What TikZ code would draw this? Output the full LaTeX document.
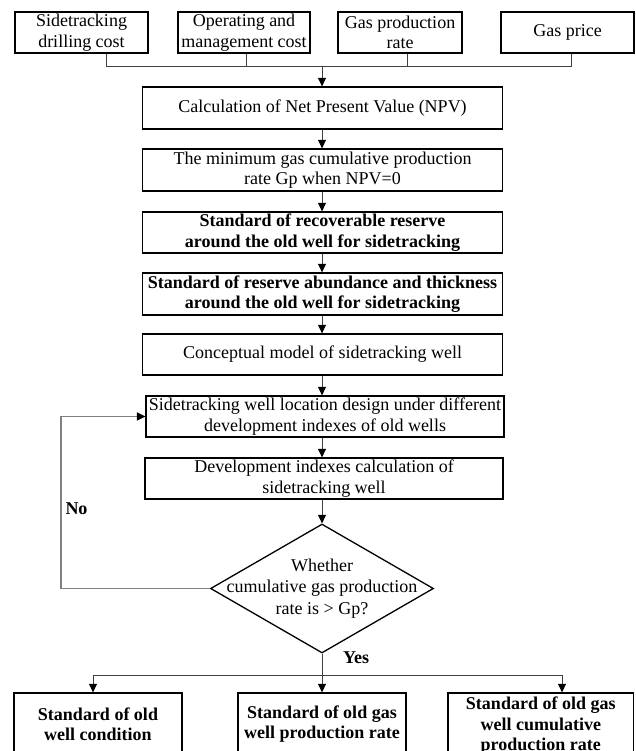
\documentclass[tikz,border=0pt]{standalone}
\usepackage{fontspec}
\setmainfont{Liberation Serif}
\usetikzlibrary{arrows.meta,shapes.geometric}
\begin{document}
\begin{tikzpicture}[x=1pt,y=-1pt,
  box/.style={draw=black, line width=1.3pt, inner sep=0pt, align=center,
    font=\fontsize{18}{20.5}\selectfont},
  bbox/.style={box, font=\fontsize{18}{20.5}\selectfont\bfseries},
  dia/.style={draw=black, line width=1.3pt, diamond, inner sep=0pt},
  conn/.style={draw=black!75, line width=1pt},
  arr/.style={conn, -{Triangle[length=8.5pt,width=8pt,color=black]}},
  fb/.style={draw=black!50, line width=1.5pt, -{Triangle[length=8.5pt,width=8pt,color=black]}},
  lbl/.style={font=\fontsize{18}{20.5}\selectfont\bfseries, inner sep=0pt}]
\clip (0,0) rectangle (635,751);
% top inputs
\node[box, minimum width=133pt, minimum height=41pt] (t1) at (81.5,32.5) {Sidetracking\\drilling cost};
\node[box, minimum width=132pt, minimum height=41pt] (t2) at (244,32.5) {Operating and\\management cost};
\node[box, minimum width=124pt, minimum height=41pt] (t3) at (400,32.5) {Gas production\\rate};
\node[box, minimum width=133pt, minimum height=41pt] (t4) at (567.5,32.5) {Gas price};
% main column
\node[box, minimum width=360pt, minimum height=42pt] (npv) at (322.5,108) {Calculation of Net Present Value (NPV)};
\node[box, minimum width=360pt, minimum height=42pt] (mg) at (322.5,170) {The minimum gas cumulative production\\rate Gp when NPV=0};
\node[bbox, minimum width=360pt, minimum height=41pt] (rr) at (322.5,232.5) {Standard of recoverable reserve\\around the old well for sidetracking};
\node[bbox, minimum width=360pt, minimum height=42pt] (ab) at (322.5,294) {Standard of reserve abundance and thickness\\around the old well for sidetracking};
\node[box, minimum width=360pt, minimum height=41pt] (cm) at (322.5,354.5) {Conceptual model of sidetracking well};
\node[box, minimum width=358pt, minimum height=41pt] (loc) at (325,416.5) {Sidetracking well location design under different\\development indexes of old wells};
\node[box, minimum width=358pt, minimum height=41pt] (dev) at (324,478.5) {Development indexes calculation of\\sidetracking well};
\node[dia, minimum width=223pt, minimum height=129pt,
  label={[font=\fontsize{18}{21.5}\selectfont, align=center]center:Whether\\cumulative gas production\\rate is > Gp?}] (dec) at (322,588.5) {};
% outputs
\node[bbox, minimum width=168pt, minimum height=62pt] (b1) at (98,724) {Standard of old\\well condition};
\node[bbox, minimum width=168pt, minimum height=62pt] (b2) at (322,724) {Standard of old gas\\well production rate};
\node[bbox, minimum width=185.5pt, minimum height=66pt] (b3) at (540.75,726) {Standard of old gas\\well cumulative\\production rate};
% labels
\node[lbl] (no) at (76.5,509) {No};
\node[lbl] (yes) at (356,658) {Yes};
% connectors
\coordinate (j) at (322,67);
\draw[conn] (106,0 |- t1.south) -- (106,67) -- (571,67);
\draw[conn] (246,0 |- t2.south) -- (246,67);
\draw[conn] (407,0 |- t3.south) -- (407,67);
\draw[conn] (571,0 |- t4.south) -- (571,67);
\draw[arr] (j) -- (322,0 |- npv.north);
\draw[arr] (322,0 |- npv.south) -- (322,0 |- mg.north);
\draw[arr] (322,0 |- mg.south) -- (322,0 |- rr.north);
\draw[arr] (322,0 |- rr.south) -- (322,0 |- ab.north);
\draw[arr] (322,0 |- ab.south) -- (322,0 |- cm.north);
\draw[arr] (322,0 |- cm.south) -- (322,0 |- loc.north);
\draw[arr] (322,0 |- loc.south) -- (322,0 |- dev.north);
\draw[arr] (322,0 |- dev.south) -- (dec.north);
\coordinate (fbc) at (61,416.5);
\draw[fb] (dec.west) -| (fbc) -- (loc.west);
\coordinate (br) at (322,675);
\draw[arr] (dec.south) -- (b2.north);
\draw[conn] (93,675) -- (562,675);
\draw[arr] (93,675) -- (93,0 |- b1.north);
\draw[arr] (562,675) -- (562,0 |- b3.north);
\end{tikzpicture}
\end{document}
